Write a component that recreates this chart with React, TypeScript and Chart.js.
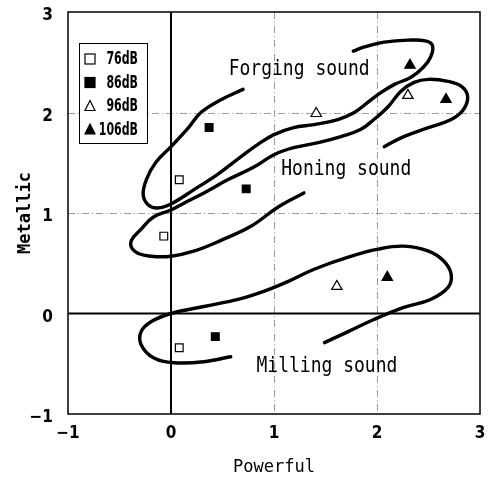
import React, { useEffect, useRef } from "react";
import { Chart, registerables } from "chart.js";

Chart.register(...registerables);

// ---- data ----
const seriesLabels = ["76dB", "86dB", "96dB", "106dB"];
const powerful76 = [0.08, -0.07, 0.08];
const metallic76 = [1.33, 0.77, -0.34];
const powerful86 = [0.37, 0.73, 0.43];
const metallic86 = [1.85, 1.24, -0.23];
const powerful96 = [1.41, 2.3, 1.61];
const metallic96 = [1.99, 2.17, 0.27];
const powerful106 = [2.32, 2.67, 2.1];
const metallic106 = [2.47, 2.13, 0.36];

const forgingX = [0.70, 0.49, 0.29, 0.17, 0.00, -0.15, -0.24, -0.27, -0.22, -0.13, 0.00, 0.22, 0.46, 0.68, 0.84, 1.00, 1.19, 1.39, 1.62, 1.78, 1.91, 2.04, 2.17, 2.33, 2.45, 2.52, 2.54, 2.48, 2.30, 2.07, 1.87, 1.77];
const forgingY = [2.23, 2.13, 2.00, 1.85, 1.66, 1.50, 1.33, 1.18, 1.08, 1.05, 1.09, 1.23, 1.39, 1.56, 1.68, 1.78, 1.85, 1.88, 1.93, 2.00, 2.10, 2.20, 2.28, 2.35, 2.45, 2.55, 2.66, 2.71, 2.72, 2.70, 2.65, 2.61];

const honingX = [1.29, 1.04, 0.78, 0.49, 0.22, 0.00, -0.19, -0.34, -0.39, -0.29, -0.17, 0.00, 0.13, 0.32, 0.55, 0.81, 1.00, 1.19, 1.43, 1.65, 1.84, 1.97, 2.11, 2.23, 2.36, 2.50, 2.69, 2.82, 2.88, 2.84, 2.72, 2.50, 2.26, 2.07];
const honingY = [1.20, 1.06, 0.87, 0.73, 0.62, 0.57, 0.57, 0.61, 0.71, 0.84, 0.96, 1.03, 1.10, 1.20, 1.33, 1.46, 1.58, 1.65, 1.70, 1.76, 1.83, 1.93, 2.06, 2.21, 2.30, 2.33, 2.31, 2.26, 2.16, 2.03, 1.93, 1.85, 1.76, 1.66];

const millingX = [0.58, 0.32, 0.03, -0.17, -0.29, -0.29, -0.19, 0.00, 0.32, 0.65, 0.90, 1.14, 1.39, 1.72, 2.01, 2.26, 2.50, 2.65, 2.72, 2.69, 2.52, 2.26, 1.97, 1.72, 1.49];
const millingY = [-0.43, -0.48, -0.49, -0.44, -0.31, -0.18, -0.08, 0.00, 0.07, 0.14, 0.22, 0.32, 0.44, 0.56, 0.64, 0.67, 0.62, 0.52, 0.39, 0.26, 0.14, 0.06, -0.06, -0.18, -0.29];

const regionLabels = ["Forging sound", "Honing sound", "Milling sound"];
const regionLabelX = [0.56, 1.07, 0.83];
const regionLabelY = [2.43, 1.43, -0.53];

const axisMin = -1;
const axisMax = 3;
const gridValues = [1, 2];

const zip = (xs: number[], ys: number[]) => xs.map((x, i) => ({ x, y: ys[i] }));

const TICK_FONT = "'Liberation Sans Narrow', 'DejaVu Sans Condensed', sans-serif";
const MONO_FONT = "'DejaVu Sans Mono', monospace";

const decorPlugin = {
  id: "decor",
  beforeDatasetsDraw(chart: any) {
    const { ctx, chartArea: a, scales } = chart;
    const xs = scales.x;
    const ys = scales.y;
    ctx.save();
    ctx.strokeStyle = "#9a9a9a";
    ctx.lineWidth = 1;
    ctx.setLineDash([7, 3, 1, 3]);
    gridValues.forEach((v) => {
      const px = Math.round(xs.getPixelForValue(v)) + 0.5;
      ctx.beginPath();
      ctx.moveTo(px, a.top);
      ctx.lineTo(px, a.bottom);
      ctx.stroke();
      const py = Math.round(ys.getPixelForValue(v)) + 0.5;
      ctx.beginPath();
      ctx.moveTo(a.left, py);
      ctx.lineTo(a.right, py);
      ctx.stroke();
    });
    ctx.setLineDash([]);
    ctx.strokeStyle = "#000";
    ctx.lineWidth = 2;
    const x0 = xs.getPixelForValue(0);
    const y0 = ys.getPixelForValue(0);
    ctx.beginPath();
    ctx.moveTo(x0, a.top);
    ctx.lineTo(x0, a.bottom);
    ctx.moveTo(a.left, y0);
    ctx.lineTo(a.right, y0);
    ctx.stroke();
    ctx.lineWidth = 1.5;
    ctx.strokeRect(a.left, a.top, a.right - a.left, a.bottom - a.top);
    ctx.restore();
  },
  afterDatasetsDraw(chart: any) {
    const { ctx, chartArea: a, scales } = chart;
    ctx.save();
    ctx.fillStyle = "#000";
    ctx.textBaseline = "middle";
    ctx.textAlign = "left";
    ctx.font = `18px ${MONO_FONT}`;
    regionLabels.forEach((t, i) => {
      const px = scales.x.getPixelForValue(regionLabelX[i]);
      const py = scales.y.getPixelForValue(regionLabelY[i]);
      ctx.save();
      ctx.translate(px, py);
      ctx.scale(1, 1.2);
      ctx.fillText(t, 0, 0);
      ctx.restore();
    });
    // legend
    const lx = a.left + 11;
    const ly = a.top + 31;
    const lw = 68;
    const lh = 100;
    ctx.fillStyle = "#fff";
    ctx.fillRect(lx, ly, lw, lh);
    ctx.strokeStyle = "#000";
    ctx.lineWidth = 1;
    ctx.strokeRect(lx + 0.5, ly + 0.5, lw, lh);
    const datasets = chart.data.datasets.filter((d: any) => d.isSeries);
    datasets.forEach((d: any, i: number) => {
      const cy = ly + 16 + i * 23.5;
      const cx = lx + 11;
      ctx.fillStyle = d.backgroundColor;
      ctx.strokeStyle = d.borderColor;
      ctx.lineWidth = 1.2;
      if (d.pointStyle === "rect") {
        ctx.fillRect(cx - 5, cy - 5, 10, 10);
        ctx.strokeRect(cx - 5, cy - 5, 10, 10);
      } else {
        ctx.beginPath();
        ctx.moveTo(cx, cy - 5.5);
        ctx.lineTo(cx + 5, cy + 4.5);
        ctx.lineTo(cx - 5, cy + 4.5);
        ctx.closePath();
        ctx.fill();
        ctx.stroke();
      }
      ctx.fillStyle = "#000";
      ctx.font = `bold 17px ${TICK_FONT}`;
      ctx.textAlign = "right";
      ctx.textBaseline = "middle";
      ctx.save();
      ctx.translate(lx + lw - 9, cy + 1);
      ctx.scale(0.72, 1);
      ctx.fillText(d.label, 0, 0);
      ctx.restore();
    });
    ctx.restore();
  },
};

export default function App() {
  const ref = useRef<HTMLCanvasElement>(null);
  useEffect(() => {
    if (!ref.current) return;
    const seriesStyle = (
      label: string,
      xs: number[],
      ys: number[],
      style: string,
      filled: boolean,
      radius: number
    ) => ({
      label,
      isSeries: true,
      data: zip(xs, ys),
      showLine: false,
      pointStyle: style,
      pointRadius: radius,
      backgroundColor: filled ? "#000" : "#fff",
      borderColor: "#000",
      pointBorderWidth: 1.2,
      order: 0,
    });
    const curve = (label: string, xs: number[], ys: number[]) => ({
      label,
      isSeries: false,
      data: zip(xs, ys),
      showLine: true,
      borderColor: "#000",
      borderWidth: 3.4,
      pointRadius: 0,
      tension: 0.4,
      fill: false,
      borderCapStyle: "round",
      borderJoinStyle: "round",
      order: 1,
    });
    const chart = new Chart(ref.current, {
      type: "scatter",
      data: {
        datasets: [
          curve("Forging", forgingX, forgingY),
          curve("Honing", honingX, honingY),
          curve("Milling", millingX, millingY),
          seriesStyle(seriesLabels[0], powerful76, metallic76, "rect", false, 5.5),
          seriesStyle(seriesLabels[1], powerful86, metallic86, "rect", true, 5.5),
          seriesStyle(seriesLabels[2], powerful96, metallic96, "triangle", false, 6),
          seriesStyle(seriesLabels[3], powerful106, metallic106, "triangle", true, 6),
        ] as any,
      },
      options: {
        animation: false,
        responsive: false,
        layout: { padding: { top: 12, right: 13, left: 0, bottom: 0 } },
        plugins: {
          legend: { display: false },
          tooltip: { enabled: false },
        },
        scales: {
          x: {
            type: "linear",
            min: axisMin,
            max: axisMax,
            grid: { display: false, drawTicks: false },
            border: { display: false },
            ticks: {
              stepSize: 1,
              padding: 9,
              color: "#000",
              font: { family: TICK_FONT, size: 17, weight: "bold" },
              callback: (v: any) => (Number(v) < 0 ? "\u2212" + Math.abs(Number(v)) : String(v)),
            },
            title: {
              display: true,
              text: "Powerful",
              color: "#000",
              font: { family: MONO_FONT, size: 17 },
              padding: { top: 0, bottom: 3 },
            },
            afterFit: (s: any) => {
              s.height = 67;
              s.paddingLeft = 0;
              s.paddingRight = 0;
            },
          },
          y: {
            type: "linear",
            min: axisMin,
            max: axisMax,
            grid: { display: false, drawTicks: false },
            border: { display: false },
            ticks: {
              stepSize: 1,
              padding: 15,
              labelOffset: 4,
              color: "#000",
              font: { family: TICK_FONT, size: 17, weight: "bold" },
              callback: (v: any) => (Number(v) < 0 ? "\u2212" + Math.abs(Number(v)) : String(v)),
            },
            title: {
              display: true,
              text: "Metallic",
              color: "#000",
              font: { family: MONO_FONT, size: 17, weight: "bold" },
              padding: { top: 15, bottom: 0 },
            },
            afterFit: (s: any) => {
              s.width = 68;
              s.paddingTop = 0;
              s.paddingBottom = 0;
            },
          },
        },
      } as any,
      plugins: [decorPlugin],
    });
    return () => chart.destroy();
  }, []);
  return (
    <div style={{ position: "fixed", left: 0, top: 0, width: 493, height: 481, background: "#fff" }}>
      <canvas ref={ref} width={493} height={481} style={{ display: "block" }} />
    </div>
  );
}
